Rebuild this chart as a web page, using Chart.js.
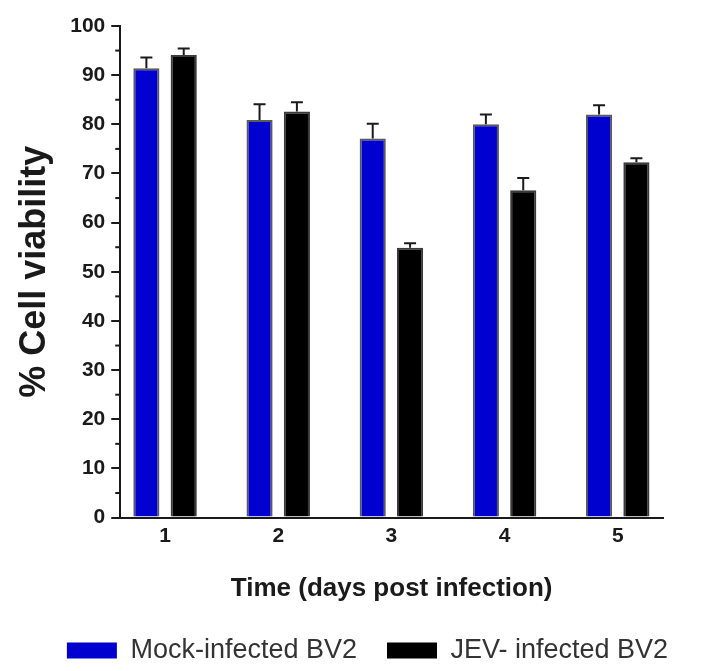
<!DOCTYPE html>
<html>
<head>
<meta charset="utf-8">
<script src="https://cdn.jsdelivr.net/npm/chart.js@4.4.0/dist/chart.umd.min.js"></script>
<style>
  html, body { margin: 0; padding: 0; background: #fff; }
  #wrap { width: 704px; height: 671px; }
</style>
</head>
<body>
<div id="wrap"><canvas id="myChart"></canvas></div>
<script>
// values
const days = [1, 2, 3, 4, 5];
const mockViability = [91.4, 80.9, 77.1, 80.0, 82.0];
const mockError = [2.2, 3.2, 3.0, 2.0, 1.9];
const jevViability = [94.1, 82.6, 54.9, 66.6, 72.3];
const jevError = [1.3, 1.9, 0.9, 2.5, 0.8];
const minorTicks = [5, 15, 25, 35, 45, 55, 65, 75, 85, 95];

Chart.defaults.font.family = "'Liberation Sans', Arial, sans-serif";
Chart.defaults.color = "#1a1a1a";

// upper error bars only, like the original
const errorBars = {
  id: "errorBars",
  afterDatasetsDraw(chart) {
    const ctx = chart.ctx;
    const yScale = chart.scales.y;
    chart.data.datasets.forEach((ds, i) => {
      const meta = chart.getDatasetMeta(i);
      meta.data.forEach((bar, j) => {
        const top = yScale.getPixelForValue(ds.data[j].y + ds.errors[j]);
        ctx.save();
        ctx.strokeStyle = "#1a1a1a";
        ctx.lineWidth = 2;
        ctx.beginPath();
        ctx.moveTo(bar.x, bar.y);
        ctx.lineTo(bar.x, top);
        ctx.moveTo(bar.x - 6, top);
        ctx.lineTo(bar.x + 6, top);
        ctx.stroke();
        ctx.restore();
      });
    });
  },
};

// short minor ticks on the y axis
const minorTickMarks = {
  id: "minorTickMarks",
  afterDraw(chart) {
    const ctx = chart.ctx;
    const yScale = chart.scales.y;
    const x = chart.chartArea.left;
    ctx.save();
    ctx.strokeStyle = "#1a1a1a";
    ctx.lineWidth = 2;
    minorTicks.forEach((v) => {
      const y = yScale.getPixelForValue(v);
      ctx.beginPath();
      ctx.moveTo(x - 5, y);
      ctx.lineTo(x, y);
      ctx.stroke();
    });
    ctx.restore();
  },
};

// the original legend sits a bit right of centre
const legendShift = {
  id: "legendShift",
  afterLayout(chart) {
    const lg = chart.legend;
    lg.left += 36;
    lg.right += 36;
    lg.top += 3;
    lg.bottom += 3;
  },
};

const chartCanvas = document.getElementById("myChart");

new Chart(chartCanvas, {
  type: "bar",
  data: {
    datasets: [
      {
        label: "Mock-infected BV2",
        data: days.map((d, i) => ({ x: d, y: mockViability[i] })),
        errors: mockError,
        backgroundColor: "#0000cf",
        borderColor: "#5a5a5a",
        borderWidth: 2,
        categoryPercentage: 0.66,
        barPercentage: 0.7,
      },
      {
        label: "JEV- infected BV2",
        data: days.map((d, i) => ({ x: d, y: jevViability[i] })),
        errors: jevError,
        backgroundColor: "#000000",
        borderColor: "#3a3a3a",
        borderWidth: 2,
        categoryPercentage: 0.66,
        barPercentage: 0.7,
      },
    ],
  },
  options: {
    responsive: true,
    maintainAspectRatio: false,
    animation: false,
    layout: {
      padding: { top: 26, right: 41, bottom: 0, left: 0 },
    },
    plugins: {
      tooltip: { enabled: false },
      legend: {
        display: true,
        position: "bottom",
        labels: {
          boxWidth: 50,
          boxHeight: 16,
          padding: 30,
          color: "#333",
          font: { size: 27 },
          generateLabels(chart) {
            return Chart.defaults.plugins.legend.labels
              .generateLabels(chart)
              .map((l) => ({ ...l, lineWidth: 0 }));
          },
        },
      },
    },
    scales: {
      x: {
        type: "linear",
        offset: false,
        min: 0.604,
        max: 5.4,
        grid: { display: false, offset: false },
        border: { display: true, color: "#1a1a1a", width: 2 },
        ticks: {
          stepSize: 1,
          includeBounds: false,
          padding: -2,
          font: { size: 21, weight: "bold" },
        },
        title: {
          display: true,
          text: "Time (days post infection)",
          padding: { top: 26, bottom: 0 },
          font: { size: 26, weight: "bold" },
        },
      },
      y: {
        min: 0,
        max: 100,
        grid: {
          drawOnChartArea: false,
          drawTicks: true,
          tickLength: 9,
          color: "#1a1a1a",
          lineWidth: 2,
        },
        border: { display: true, color: "#1a1a1a", width: 2 },
        ticks: {
          stepSize: 10,
          padding: 6,
          font: { size: 21, weight: "bold" },
        },
        title: {
          display: true,
          text: "% Cell viability",
          padding: { top: 13, bottom: 8 },
          font: { size: 36, weight: "bold" },
        },
      },
    },
  },
  plugins: [errorBars, minorTickMarks, legendShift],
});
</script>
</body>
</html>
